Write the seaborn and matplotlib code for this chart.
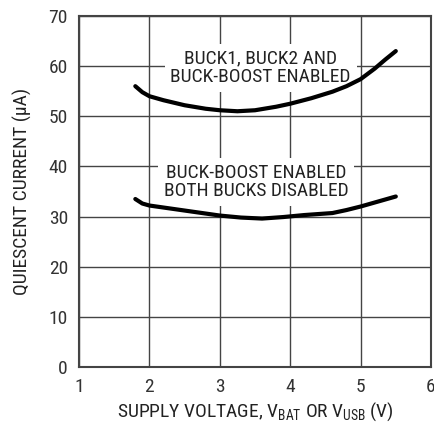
import pandas as pd
import seaborn as sns
import matplotlib.pyplot as plt

# curve 1: buck1, buck2 and buck-boost enabled
v_all = [1.8, 1.9, 2.0, 2.2, 2.5, 2.8, 3.0, 3.25, 3.5, 3.8, 4.0, 4.3, 4.6, 4.8, 5.0, 5.2, 5.35, 5.5]
i_all = [56.0, 54.8, 54.0, 53.2, 52.2, 51.5, 51.2, 51.0, 51.2, 51.9, 52.5, 53.6, 54.9, 56.0, 57.4, 59.5, 61.3, 63.0]

# curve 2: buck-boost enabled, both bucks disabled
v_bb = [1.8, 1.9, 2.0, 2.3, 2.6, 3.0, 3.3, 3.6, 3.9, 4.2, 4.6, 4.8, 5.0, 5.25, 5.5]
i_bb = [33.5, 32.6, 32.2, 31.6, 31.0, 30.2, 29.8, 29.6, 29.9, 30.3, 30.7, 31.3, 32.0, 33.0, 34.0]

x_ticks = [1, 2, 3, 4, 5, 6]
y_ticks = [0, 10, 20, 30, 40, 50, 60, 70]

sns.set_style("white")
plt.rcParams['font.family'] = ['Roboto Condensed', 'DejaVu Sans']
plt.rcParams['mathtext.default'] = 'regular'

fig = plt.figure(figsize=(4.35, 4.25), dpi=100)
ax = fig.add_axes([0.1816, 0.1365, 0.8092, 0.8259])

ax.grid(True, color='#444444', linewidth=1.0, zorder=0)
ax.set_axisbelow(True)

df1 = pd.DataFrame({'v': v_all, 'i': i_all})
df2 = pd.DataFrame({'v': v_bb, 'i': i_bb})
sns.lineplot(data=df1, x='v', y='i', ax=ax, color='black', linewidth=3, zorder=3)
sns.lineplot(data=df2, x='v', y='i', ax=ax, color='black', linewidth=3, zorder=3)

ax.set_xlim(1, 6)
ax.set_ylim(0, 70)
ax.set_xticks(x_ticks)
ax.set_yticks(y_ticks)
ax.tick_params(length=0, labelsize=14, colors='#333333', pad=8)

for s in ax.spines.values():
    s.set_color('#444444')
    s.set_linewidth(1.5)

box = dict(facecolor='white', edgecolor='none', pad=4)
ax.text(3.58, 59.7, 'BUCK1, BUCK2 AND\nBUCK-BOOST ENABLED', ha='center', va='center',
        fontsize=14, color='#222222', linespacing=1.05, bbox=box, zorder=2)
ax.text(3.52, 36.9, 'BUCK-BOOST ENABLED\nBOTH BUCKS DISABLED', ha='center', va='center',
        fontsize=14, color='#222222', linespacing=1.05, bbox=box, zorder=2)

ax.set_xlabel('SUPPLY VOLTAGE, V$_{BAT}$ OR V$_{USB}$ (V)', fontsize=14, color='#222222', labelpad=3)
ax.set_ylabel('QUIESCENT CURRENT (μA)', fontsize=14, color='#222222', labelpad=12)

fig.savefig('out.png', dpi=100)
